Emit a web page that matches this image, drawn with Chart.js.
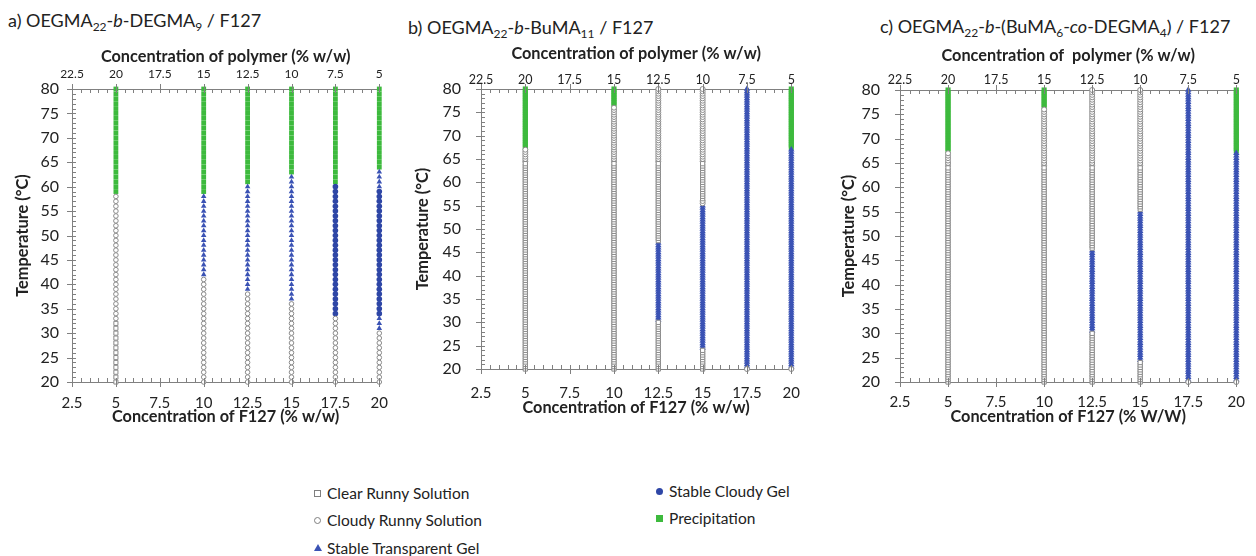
<!DOCTYPE html>
<html>
<head>
<meta charset="utf-8">
<script src="https://cdn.jsdelivr.net/npm/chart.js@4.4.1/dist/chart.umd.min.js"></script>
<style>
  body { margin: 0; width: 1256px; height: 556px; position: relative; overflow: hidden; background: #fff; font-family: Lato, 'Open Sans', sans-serif; color: #222; }
  canvas { position: absolute; }
  .title { position: absolute; font-size: 18px; white-space: nowrap; line-height: 24px; }
  .title sub { font-size: 12px; vertical-align: -4px; line-height: 0; }
  .leg { position: absolute; font-size: 15.5px; white-space: nowrap; line-height: 20px; }
  .sym { display: inline-block; position: absolute; left: -13px; top: 7px; box-sizing: border-box; }
  .sq { width: 7px; height: 7px; border: 1px solid #7f7f7f; background: #fff; }
  .ci { width: 7px; height: 7px; border: 1px solid #7f7f7f; border-radius: 50%; background: #fff; }
  .tr { width: 0; height: 0; border-left: 4px solid transparent; border-right: 4px solid transparent; border-bottom: 7px solid #3a52b4; top: 6px; }
  .bc { width: 7px; height: 7px; border-radius: 50%; background: #2e46a6; }
  .gs { width: 7px; height: 7px; background: #3dba3d; }
</style>
</head>
<body>
<div class="title" style="left:8px; top:8px">a) OEGMA<sub>22</sub>-<i>b</i>-DEGMA<sub>9</sub> / F127</div>
<div class="title" style="left:408px; top:15px">b) OEGMA<sub>22</sub>-<i>b</i>-BuMA<sub>11</sub> / F127</div>
<div class="title" style="left:880px; top:14px">c) OEGMA<sub>22</sub>-<i>b</i>-(BuMA<sub>6</sub>-<i>co</i>-DEGMA<sub>4</sub>) / F127</div>

<canvas id="chartA"></canvas>
<canvas id="chartB"></canvas>
<canvas id="chartC"></canvas>

<div class="leg" style="left:327px; top:483px"><span class="sym sq"></span>Clear Runny Solution</div>
<div class="leg" style="left:327px; top:510px"><span class="sym ci"></span>Cloudy Runny Solution</div>
<div class="leg" style="left:327px; top:538px"><span class="sym tr"></span>Stable Transparent Gel</div>
<div class="leg" style="left:669px; top:481px"><span class="sym bc"></span>Stable Cloudy Gel</div>
<div class="leg" style="left:669px; top:508px"><span class="sym gs"></span>Precipitation</div>

<script>
// columns: concentration of F127 (% w/w); polymer = 25 - F127
const f127Conc = [5, 10, 12.5, 15, 17.5, 20]

// 0 clear runny, 1 cloudy runny, 2 stable transparent gel, 3 stable cloudy gel, 4 precipitation
const phaseLabels = ['Clear Runny Solution', 'Cloudy Runny Solution', 'Stable Transparent Gel', 'Stable Cloudy Gel', 'Precipitation']

// observed state per column as [phase, from °C, to °C]
const phasesA = [
  [[0, 20, 32], [1, 33, 58], [4, 59, 80]],
  [[1, 20, 41], [2, 42, 58], [4, 59, 80]],
  [[1, 20, 38], [2, 39, 60], [4, 61, 80]],
  [[1, 20, 36], [2, 37, 62], [4, 63, 80]],
  [[1, 20, 33], [3, 34, 60], [4, 61, 80]],
  [[1, 20, 30], [2, 31, 33], [3, 34, 59], [2, 60, 63], [4, 64, 80]],
]
const phasesB = [
  [[0, 20, 64], [1, 64.5, 67], [4, 67.5, 80]],
  [[0, 20, 64], [1, 64.5, 76], [4, 76.5, 80]],
  [[0, 20, 30], [2, 30.5, 47], [0, 47.5, 64], [1, 64.5, 80]],
  [[0, 20, 24], [2, 24.5, 55], [1, 55.5, 56], [0, 56.5, 64], [1, 64.5, 80]],
  [[1, 20, 20], [2, 20.5, 80]],
  [[1, 20, 20], [2, 20.5, 67], [4, 67.5, 80]],
]
const phasesC = [
  [[0, 20, 64], [1, 64.5, 67], [4, 67.5, 80]],
  [[0, 20, 64], [1, 64.5, 76], [4, 76.5, 80]],
  [[0, 20, 30], [2, 30.5, 47], [0, 47.5, 64], [1, 64.5, 80]],
  [[0, 20, 24], [2, 24.5, 55], [0, 55.5, 64], [1, 64.5, 80]],
  [[1, 20, 20], [2, 20.5, 80]],
  [[1, 20, 20], [2, 20.5, 67], [4, 67.5, 80]],
]
// temperature interval between readings (°C)
const stepA = 1
const stepB = 0.5
const stepC = 0.5

const axisColor = '#808080'
const textColor = '#222'
const fontFamily = 'Lato, "Open Sans", sans-serif'

function buildDatasets(phases, step, big) {
  const pts = phaseLabels.map(() => [])
  phases.forEach((col, i) => {
    col.forEach(([p, from, to]) => {
      for (let k = 0; from + k * step <= to + 1e-6; k++) pts[p].push({ x: f127Conc[i], y: from + k * step })
    })
  })
  const styles = big
    ? [
        { pointStyle: 'rect', radius: 2.9, bg: '#fff', border: '#8a8a8a', bw: 1 },
        { pointStyle: 'circle', radius: 2.3, bg: '#fff', border: '#8a8a8a', bw: 1 },
        { pointStyle: 'triangle', radius: 3.2, bg: '#3a52b4', border: '#3a52b4', bw: 0 },
        { pointStyle: 'circle', radius: 2.8, bg: '#2e46a6', border: '#2e46a6', bw: 0 },
        { pointStyle: 'rect', radius: 3.4, bg: '#3dba3d', border: '#3dba3d', bw: 0 },
      ]
    : [
        { pointStyle: 'rect', radius: 3.0, bg: '#fff', border: '#8a8a8a', bw: 1 },
        { pointStyle: 'circle', radius: 2.5, bg: '#fff', border: '#8a8a8a', bw: 1 },
        { pointStyle: 'triangle', radius: 3.7, bg: '#3a52b4', border: '#3a52b4', bw: 0 },
        { pointStyle: 'circle', radius: 2.8, bg: '#2e46a6', border: '#2e46a6', bw: 0 },
        { pointStyle: 'rect', radius: 3.6, bg: '#3dba3d', border: '#3dba3d', bw: 0 },
      ]
  return phaseLabels.map((label, p) => ({
    label,
    data: pts[p],
    pointStyle: styles[p].pointStyle,
    pointRadius: styles[p].radius,
    pointBackgroundColor: styles[p].bg,
    pointBorderColor: styles[p].border,
    pointBorderWidth: styles[p].bw,
    showLine: false,
    clip: false,
  }))
}

// major ticks cross the axis lines, minor ticks point inwards
const axisTicks = {
  id: 'axisTicks',
  afterDraw(chart) {
    const { ctx, chartArea: a, scales } = chart
    ctx.save()
    ctx.strokeStyle = axisColor
    ctx.lineWidth = 1
    ctx.beginPath()
    for (let k = 0; k <= 35; k++) {
      const v = 2.5 + k * 0.5
      const major = k % 5 === 0
      const px = Math.round(scales.x.getPixelForValue(v)) + 0.5
      ctx.moveTo(px, a.bottom + (major ? 5 : 0))
      ctx.lineTo(px, a.bottom - 4)
      const tx = Math.round(scales.x2.getPixelForValue(25 - v)) + 0.5
      ctx.moveTo(tx, a.top - (major ? 5 : 0))
      ctx.lineTo(tx, a.top + 4)
    }
    for (let t = 20; t <= 80; t++) {
      const major = t % 5 === 0
      const py = Math.round(scales.y.getPixelForValue(t)) + 0.5
      ctx.moveTo(a.left - (major ? 5 : 0), py)
      ctx.lineTo(a.left + 4, py)
    }
    ctx.stroke()
    ctx.restore()
  },
}

function makeChart(id, cfg) {
  const el = document.getElementById(id)
  el.width = cfg.w
  el.height = cfg.h
  el.style.left = cfg.left + 'px'
  el.style.top = cfg.top + 'px'
  const axisCommon = {
    type: 'linear',
    grid: { drawOnChartArea: false, drawTicks: false },
    border: { color: axisColor },
  }
  const titleFont = { family: fontFamily, size: 16.3, weight: 'bold' }
  return new Chart(el, {
    type: 'scatter',
    data: { datasets: buildDatasets(cfg.phases, cfg.step, cfg.big) },
    options: {
      responsive: false,
      animation: false,
      events: [],
      layout: { padding: { right: cfg.padRight, left: 0, top: 0, bottom: 0 } },
      plugins: { legend: { display: false }, tooltip: { enabled: false } },
      scales: {
        x: {
          ...axisCommon,
          position: 'bottom',
          min: 2.5,
          max: 20,
          ticks: { stepSize: 2.5, padding: cfg.bottomTickPad, color: textColor, font: { family: fontFamily, size: 15 } },
          title: { display: true, text: cfg.bottomTitle, color: textColor, font: titleFont, padding: { top: 0, bottom: cfg.bottomTitlePad } },
          afterFit: (s) => { s.height = cfg.bottomH },
        },
        x2: {
          ...axisCommon,
          position: 'top',
          min: 5,
          max: 22.5,
          reverse: true,
          ticks: { stepSize: 2.5, padding: cfg.topTickPad, color: textColor, font: { family: fontFamily, size: cfg.topTickSize } },
          title: { display: true, text: cfg.topTitle, color: textColor, font: titleFont, padding: { top: cfg.topTitlePad, bottom: 0 } },
          afterFit: (s) => { s.height = cfg.topH },
        },
        y: {
          ...axisCommon,
          min: 20,
          max: 80,
          ticks: { stepSize: 5, padding: cfg.yTickPad, color: textColor, font: { family: fontFamily, size: 16 } },
          title: { display: true, text: 'Temperature (°C)', color: textColor, font: titleFont, padding: { top: cfg.yTitlePad, bottom: 0 } },
          afterFit: (s) => { s.width = cfg.yW },
        },
      },
    },
    plugins: [axisTicks],
  })
}

makeChart('chartA', {
  phases: phasesA, step: stepA, big: true,
  left: 0, top: 40, w: 400, h: 391,
  yW: 72, topH: 49, bottomH: 49, padRight: 12,
  yTickPad: 13, yTitlePad: 13,
  topTickPad: 8, topTickSize: 12, topTitlePad: 7,
  bottomTickPad: 12, bottomTitlePad: 4,
  topTitle: 'Concentration of polymer (% w/w)',
  bottomTitle: 'Concentration of F127 (% w/w)',
})

makeChart('chartB', {
  phases: phasesB, step: stepB, big: false,
  left: 405, top: 40, w: 410, h: 382,
  yW: 76, topH: 49, bottomH: 53, padRight: 11,
  yTickPad: 20, yTitlePad: 7.5,
  topTickPad: 2, topTickSize: 12.5, topTitlePad: 3.5,
  bottomTickPad: 15, bottomTitlePad: 4,
  topTitle: 'Concentration of polymer (% w/w)',
  bottomTitle: 'Concentration of F127 (% w/w)',
})

makeChart('chartC', {
  phases: phasesC, step: stepC, big: false,
  left: 830, top: 40, w: 426, h: 391,
  yW: 70, topH: 50, bottomH: 49, padRight: 9,
  yTickPad: 20, yTitlePad: 8.5,
  topTickPad: 3, topTickSize: 12.5, topTitlePad: 5.5,
  bottomTickPad: 11, bottomTitlePad: 4,
  topTitle: 'Concentration of  polymer (% w/w)',
  bottomTitle: 'Concentration of F127 (% W/W)',
})
</script>
</body>
</html>
